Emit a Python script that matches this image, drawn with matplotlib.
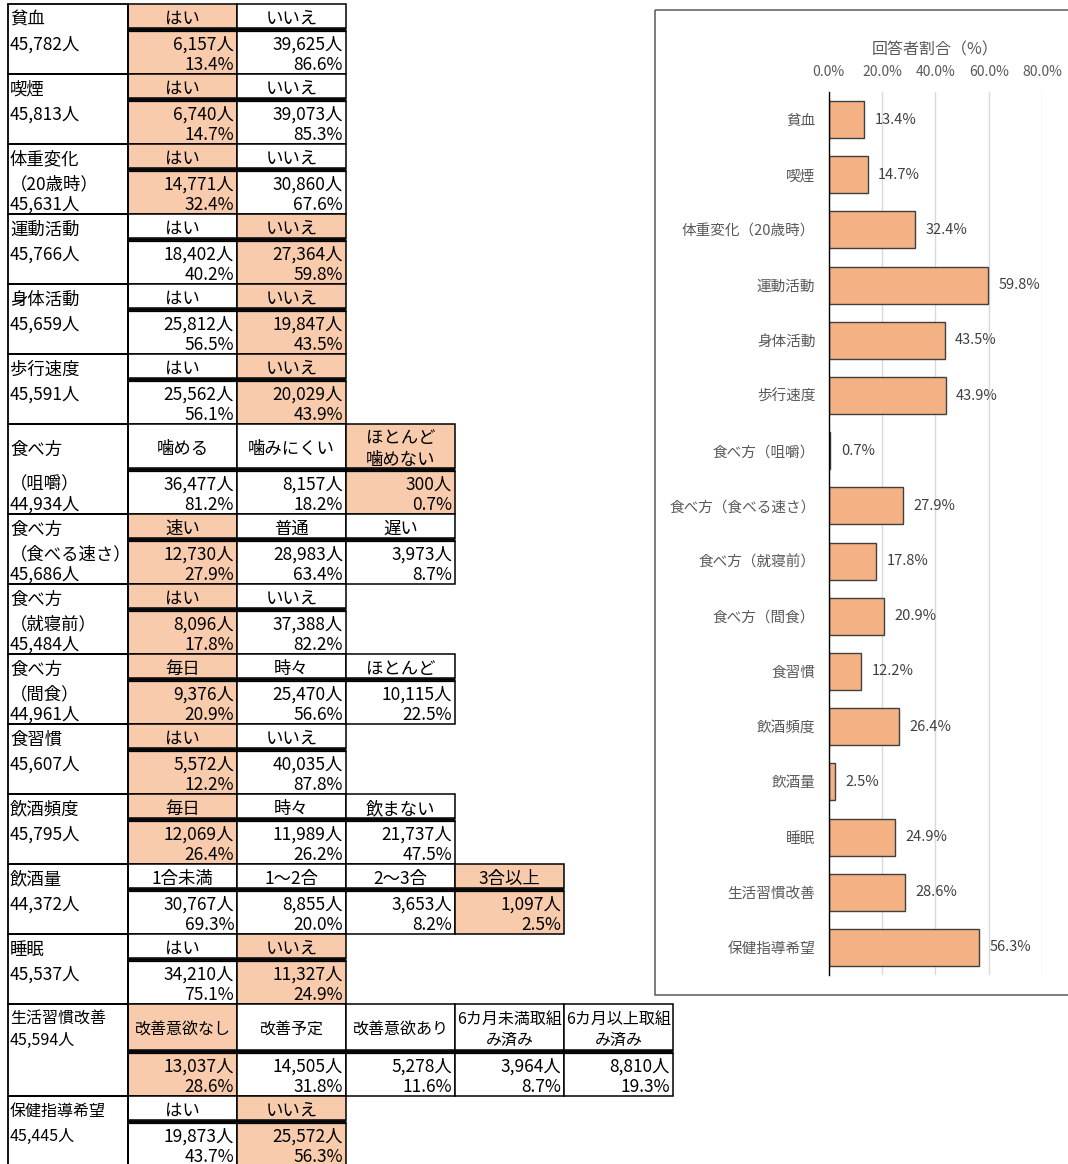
import matplotlib
matplotlib.use("Agg")
import matplotlib.pyplot as plt
from matplotlib.patches import Rectangle

plt.rcParams['font.family'] = ['Noto Sans CJK JP', 'DejaVu Sans']

# ---- data ----
item_names = [["貧血"], ["喫煙"], ["体重変化", "（20歳時）"], ["運動活動"], ["身体活動"], ["歩行速度"],
              ["食べ方", "（咀嚼）"], ["食べ方", "（食べる速さ）"], ["食べ方", "（就寝前）"], ["食べ方", "（間食）"],
              ["食習慣"], ["飲酒頻度"], ["飲酒量"], ["睡眠"], ["生活習慣改善"], ["保健指導希望"]]
totals = [45782, 45813, 45631, 45766, 45659, 45591, 44934, 45686,
          45484, 44961, 45607, 45795, 44372, 45537, 45594, 45445]
options = [["はい", "いいえ"], ["はい", "いいえ"], ["はい", "いいえ"], ["はい", "いいえ"],
           ["はい", "いいえ"], ["はい", "いいえ"],
           ["噛める", "噛みにくい", "ほとんど\n噛めない"],
           ["速い", "普通", "遅い"],
           ["はい", "いいえ"],
           ["毎日", "時々", "ほとんど"],
           ["はい", "いいえ"],
           ["毎日", "時々", "飲まない"],
           ["1合未満", "1～2合", "2～3合", "3合以上"],
           ["はい", "いいえ"],
           ["改善意欲なし", "改善予定", "改善意欲あり", "6カ月未満取組\nみ済み", "6カ月以上取組\nみ済み"],
           ["はい", "いいえ"]]
counts = [[6157, 39625], [6740, 39073], [14771, 30860], [18402, 27364],
          [25812, 19847], [25562, 20029], [36477, 8157, 300], [12730, 28983, 3973],
          [8096, 37388], [9376, 25470, 10115], [5572, 40035], [12069, 11989, 21737],
          [30767, 8855, 3653, 1097], [34210, 11327], [13037, 14505, 5278, 3964, 8810],
          [19873, 25572]]
percents = [[13.4, 86.6], [14.7, 85.3], [32.4, 67.6], [40.2, 59.8],
            [56.5, 43.5], [56.1, 43.9], [81.2, 18.2, 0.7], [27.9, 63.4, 8.7],
            [17.8, 82.2], [20.9, 56.6, 22.5], [12.2, 87.8], [26.4, 26.2, 47.5],
            [69.3, 20.0, 8.2, 2.5], [75.1, 24.9], [28.6, 31.8, 11.6, 8.7, 19.3],
            [43.7, 56.3]]
highlight = [0, 0, 0, 1, 1, 1, 2, 0, 0, 0, 0, 0, 3, 1, 0, 1]
chart_labels = ["貧血", "喫煙", "体重変化（20歳時）", "運動活動", "身体活動", "歩行速度",
                "食べ方（咀嚼）", "食べ方（食べる速さ）", "食べ方（就寝前）", "食べ方（間食）",
                "食習慣", "飲酒頻度", "飲酒量", "睡眠", "生活習慣改善", "保健指導希望"]
bar_values = [percents[i][highlight[i]] for i in range(len(percents))]

# ---- layout ----
W, H = 1068, 1164
header_h = [24] * 6 + [44] + [24] * 7 + [46, 24]
cell_fill = "#F8CBAD"
bar_color = "#F4B183"
dy = 1.5  # CJK font visual offset

fig = plt.figure(figsize=(W / 100, H / 100), dpi=100)
ax = fig.add_axes([0, 0, 1, 1])
ax.set_xlim(0, W)
ax.set_ylim(H, 0)
ax.axis("off")

x_label, x_data, col_w = 8, 128, 109
y = 4
for i, opts in enumerate(options):
    hh = header_h[i]
    top = y
    sep = top + hh
    body_top = sep + 3
    bottom = body_top + 43
    n = len(opts)
    fs_name = 11.5 if len(item_names[i][0]) >= 6 else 12.5
    fs_hdr = 11.5 if n > 4 else 12.5

    ax.add_patch(Rectangle((x_label, top), x_data - x_label, bottom - top,
                           fill=False, ec="black", lw=1.3, zorder=3))
    lines = item_names[i] + [f"{totals[i]:,}人"]
    if hh > 30 and len(lines) == 2:
        ys = [top + 0.3 * hh, top + 0.77 * hh]
    else:
        ys = [top + hh / 2 + 2, body_top + 12, body_top + 32.5][:len(lines)]
    for txt, ty in zip(lines, ys):
        ax.text(x_label + 2, ty + dy, txt, ha="left", va="center", fontsize=fs_name)

    for j, opt in enumerate(opts):
        x0 = x_data + j * col_w
        fc = cell_fill if j == highlight[i] else "white"
        ax.add_patch(Rectangle((x0, top), col_w, hh, fc=fc, ec="black", lw=1.1, zorder=2))
        ax.add_patch(Rectangle((x0, body_top), col_w, bottom - body_top, fc=fc,
                               ec="black", lw=1.1, zorder=2))
        ax.text(x0 + col_w / 2, top + hh / 2 + 1.5 + dy, opt, ha="center", va="center",
                fontsize=fs_hdr, linespacing=1.3, zorder=4)
        ax.text(x0 + col_w - 3, body_top + 12 + dy, f"{counts[i][j]:,}人", ha="right",
                va="center", fontsize=12.5, zorder=4)
        ax.text(x0 + col_w - 3, body_top + 32.5 + dy, f"{percents[i][j]:.1f}%", ha="right",
                va="center", fontsize=12.5, zorder=4)
    x_end = x_data + n * col_w
    ax.plot([x_data, x_end], [sep + 0.5, sep + 0.5], color="black", lw=1.8, zorder=5,
            solid_capstyle="butt")
    ax.plot([x_data, x_end], [sep + 3, sep + 3], color="black", lw=0.9, zorder=5,
            solid_capstyle="butt")
    y = bottom

# chart frame
ax.add_patch(Rectangle((655, 10), 430, 985, fill=False, ec="#595959", lw=1.1))

# ---- bar chart ----
ax_left, ax_right, ax_top, ax_bot = 828.5, 1042.3, 92, 975
axc = fig.add_axes([ax_left / W, 1 - ax_bot / H, (ax_right - ax_left) / W, (ax_bot - ax_top) / H])
pos = list(range(len(bar_values)))
bars = axc.barh(pos, bar_values, height=0.67, color=bar_color, edgecolor="#404040",
                linewidth=1.0, zorder=3)
axc.bar_label(bars, labels=[f"{v:.1f}%" for v in bar_values], padding=7.5,
              fontsize=10.5, color="#404040")
axc.set_ylim(len(bar_values) - 0.5, -0.5)
axc.set_xlim(0, 80)
axc.set_yticks(pos, chart_labels)
axc.set_xticks([0, 20, 40, 60, 80], ["0.0%", "20.0%", "40.0%", "60.0%", "80.0%"])
axc.xaxis.tick_top()
axc.xaxis.set_label_position("top")
axc.set_xlabel("回答者割合（%）", fontsize=11.5, color="#595959", labelpad=8)
axc.tick_params(axis="x", length=0, pad=9, labelsize=10, labelcolor="#595959")
axc.tick_params(axis="y", length=0, pad=9.5, labelsize=10.5, labelcolor="#595959")
axc.grid(axis="x", color="#D9D9D9", lw=1.0, zorder=0)
for s in ["top", "right", "bottom"]:
    axc.spines[s].set_visible(False)
axc.spines["left"].set_color("black")
axc.spines["left"].set_linewidth(1.0)
axc.spines["left"].set_zorder(4)
axc.set_facecolor("none")

fig.savefig("out.png", dpi=100)
